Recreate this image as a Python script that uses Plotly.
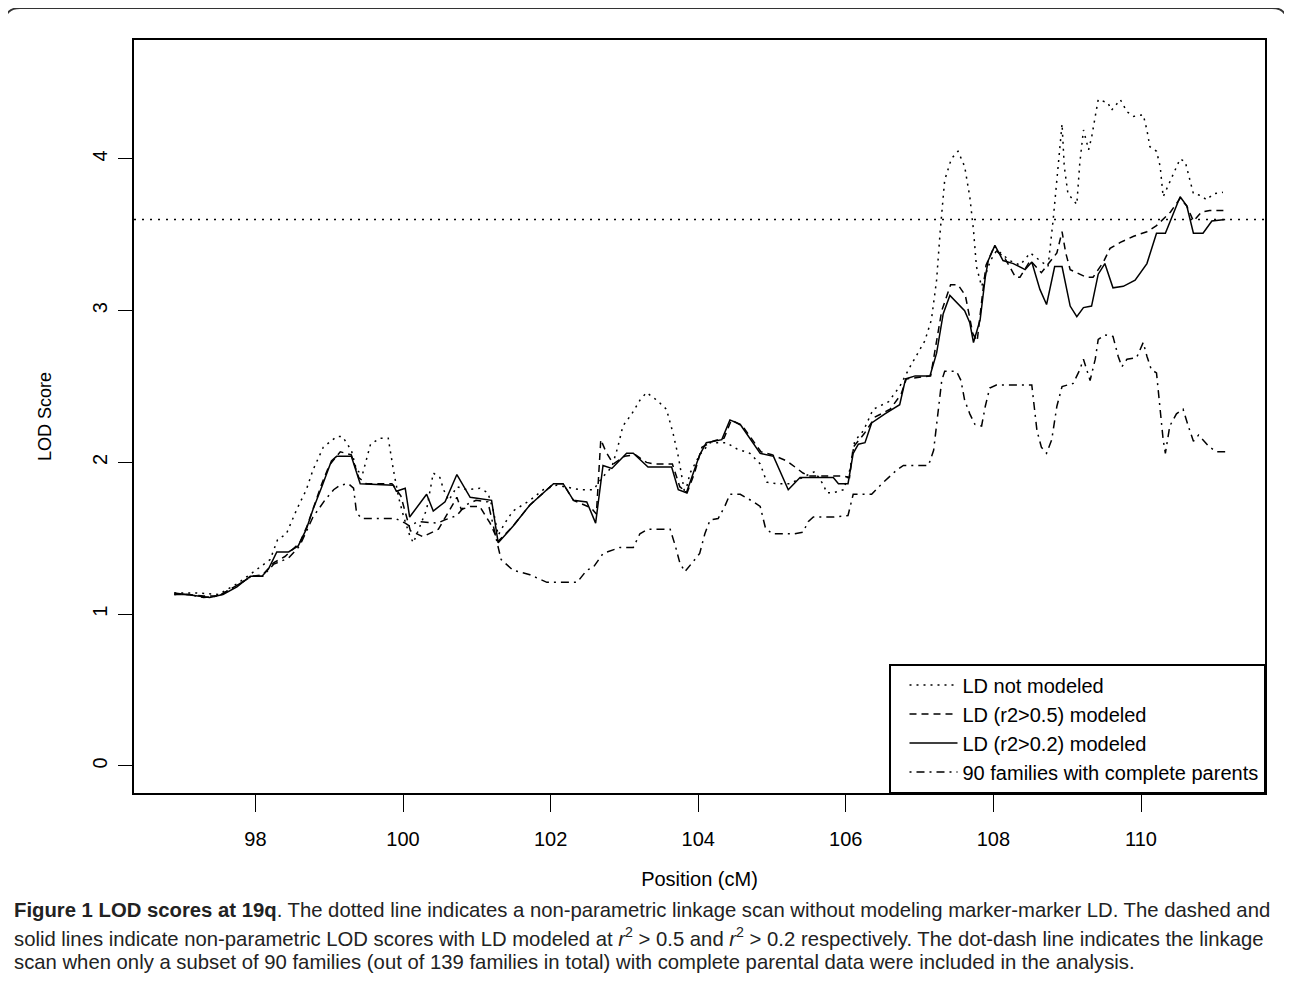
import plotly.graph_objects as go

# ---------------- data ----------------
pos_not_modeled = [96.90, 97.20, 97.50, 97.75, 97.95, 98.20, 98.30, 98.42, 98.56, 98.69,
                   98.78, 98.92, 99.10, 99.18, 99.30, 99.37, 99.45, 99.56, 99.69, 99.80,
                   99.87, 99.94, 100.01, 100.09, 100.14, 100.21, 100.32, 100.41, 100.50, 100.55,
                   100.62, 100.73, 100.87, 101.04, 101.15, 101.22, 101.29, 101.38, 101.49, 101.72,
                   101.90, 102.08, 102.40, 102.58, 102.70, 102.83, 102.91, 102.98, 103.10, 103.21,
                   103.30, 103.44, 103.57, 103.66, 103.73, 103.82, 103.89, 104.02, 104.16, 104.38,
                   104.52, 104.70, 104.84, 104.93, 105.06, 105.24, 105.42, 105.58, 105.70, 105.74,
                   105.83, 105.97, 106.06, 106.12, 106.24, 106.37, 106.58, 106.73, 106.87, 106.98,
                   107.07, 107.16, 107.23, 107.28, 107.34, 107.43, 107.52, 107.61, 107.68, 107.73,
                   107.77, 107.84, 107.96, 108.05, 108.22, 108.36, 108.50, 108.63, 108.74, 108.81,
                   108.88, 108.93, 108.96, 109.01, 109.08, 109.13, 109.17, 109.22, 109.29, 109.33,
                   109.38, 109.42, 109.55, 109.60, 109.72, 109.81, 109.90, 110.03, 110.08, 110.12,
                   110.21, 110.26, 110.30, 110.44, 110.53, 110.60, 110.66, 110.71, 110.80, 110.89,
                   110.98, 111.11]
lod_not_modeled = [1.14, 1.14, 1.13, 1.20, 1.27, 1.36, 1.49, 1.53, 1.69, 1.82,
                   1.95, 2.10, 2.17, 2.17, 2.08, 1.95, 1.92, 2.12, 2.16, 2.16,
                   1.95, 1.77, 1.64, 1.52, 1.47, 1.56, 1.69, 1.93, 1.90, 1.82,
                   1.75, 1.84, 1.82, 1.83, 1.80, 1.69, 1.52, 1.60, 1.68, 1.75,
                   1.82, 1.85, 1.82, 1.82, 1.90, 1.97, 2.10, 2.24, 2.32, 2.41,
                   2.46, 2.41, 2.35, 2.19, 2.04, 1.79, 1.93, 2.05, 2.13, 2.13,
                   2.09, 2.06, 1.99, 1.87, 1.86, 1.86, 1.90, 1.94, 1.85, 1.80,
                   1.80, 1.82, 1.96, 2.14, 2.21, 2.35, 2.40, 2.50, 2.63, 2.72,
                   2.80, 2.94, 3.20, 3.53, 3.86, 4.00, 4.05, 3.95, 3.75, 3.53,
                   3.29, 3.16, 3.33, 3.40, 3.33, 3.30, 3.38, 3.33, 3.29, 3.60,
                   3.97, 4.23, 3.95, 3.77, 3.73, 3.70, 3.97, 4.19, 4.06, 4.14,
                   4.28, 4.39, 4.37, 4.32, 4.39, 4.31, 4.28, 4.29, 4.19, 4.08,
                   4.05, 3.95, 3.75, 3.90, 4.00, 3.98, 3.86, 3.77, 3.76, 3.73,
                   3.77, 3.78]

pos_r05 = [96.90, 97.10, 97.30, 97.50, 97.75, 97.95, 98.10, 98.25, 98.40, 98.60,
           98.70, 98.80, 98.90, 99.00, 99.15, 99.30, 99.40, 99.50, 99.85, 99.97,
           100.10, 100.27, 100.48, 100.66, 100.73, 100.79, 100.91, 101.04, 101.18, 101.29,
           101.49, 101.72, 102.04, 102.17, 102.31, 102.55, 102.62, 102.68, 102.75, 102.85,
           103.00, 103.15, 103.30, 103.40, 103.65, 103.75, 103.85, 103.95, 104.05, 104.20,
           104.35, 104.45, 104.60, 104.85, 105.00, 105.20, 105.42, 105.50, 105.97, 106.05,
           106.10, 106.25, 106.40, 106.60, 106.75, 106.82, 107.15, 107.30, 107.42, 107.52,
           107.62, 107.72, 107.78, 107.85, 107.90, 108.00, 108.15, 108.30, 108.36, 108.50,
           108.65, 108.86, 108.93, 108.98, 109.04, 109.26, 109.35, 109.49, 109.58, 109.72,
           109.90, 110.08, 110.21, 110.40, 110.53, 110.62, 110.71, 110.82, 110.93, 111.14]
lod_r05 = [1.13, 1.13, 1.12, 1.12, 1.19, 1.25, 1.26, 1.34, 1.38, 1.47,
           1.58, 1.72, 1.86, 1.98, 2.07, 2.05, 1.90, 1.86, 1.86, 1.78,
           1.55, 1.51, 1.56, 1.71, 1.77, 1.69, 1.71, 1.71, 1.60, 1.48,
           1.58, 1.72, 1.86, 1.86, 1.75, 1.70, 1.66, 2.15, 2.07, 1.99,
           2.04, 2.05, 2.00, 1.99, 1.99, 1.84, 1.80, 1.93, 2.10, 2.14,
           2.16, 2.28, 2.24, 2.07, 2.05, 2.01, 1.93, 1.91, 1.91, 1.90,
           2.10, 2.19, 2.30, 2.35, 2.45, 2.55, 2.57, 3.00, 3.17, 3.17,
           3.10, 2.85, 2.80, 3.10, 3.30, 3.41, 3.35, 3.22, 3.22, 3.33,
           3.25, 3.38, 3.52, 3.38, 3.27, 3.22, 3.22, 3.32, 3.41, 3.45,
           3.49, 3.52, 3.56, 3.65, 3.74, 3.69, 3.59, 3.65, 3.66, 3.66]

pos_r02 = [96.90, 97.07, 97.29, 97.38, 97.56, 97.75, 97.93, 98.09, 98.18, 98.29,
           98.45, 98.58, 98.69, 98.78, 98.90, 99.03, 99.10, 99.30, 99.42, 99.87,
           99.91, 100.03, 100.09, 100.32, 100.41, 100.57, 100.73, 100.91, 101.20, 101.29,
           101.49, 101.72, 102.04, 102.17, 102.31, 102.49, 102.61, 102.71, 102.83, 103.03,
           103.12, 103.32, 103.64, 103.73, 103.84, 104.02, 104.11, 104.32, 104.43, 104.57,
           104.84, 105.02, 105.22, 105.38, 105.83, 105.90, 106.03, 106.10, 106.17, 106.26,
           106.35, 106.53, 106.73, 106.81, 106.94, 107.14, 107.23, 107.32, 107.41, 107.61,
           107.68, 107.73, 107.82, 107.89, 107.93, 108.02, 108.13, 108.27, 108.43, 108.52,
           108.63, 108.72, 108.83, 108.93, 109.04, 109.13, 109.22, 109.33, 109.42, 109.51,
           109.62, 109.76, 109.92, 110.08, 110.21, 110.33, 110.53, 110.62, 110.71, 110.84,
           110.96, 111.14]
lod_r02 = [1.14, 1.13, 1.12, 1.11, 1.13, 1.18, 1.25, 1.25, 1.30, 1.41,
           1.41, 1.45, 1.56, 1.69, 1.84, 2.01, 2.04, 2.04, 1.86, 1.85,
           1.81, 1.83, 1.64, 1.79, 1.68, 1.74, 1.92, 1.77, 1.75, 1.47,
           1.58, 1.72, 1.86, 1.86, 1.75, 1.74, 1.60, 1.98, 1.96, 2.06,
           2.06, 1.97, 1.97, 1.82, 1.80, 2.05, 2.13, 2.15, 2.28, 2.25,
           2.06, 2.04, 1.82, 1.90, 1.90, 1.86, 1.86, 2.06, 2.12, 2.13,
           2.26, 2.32, 2.38, 2.55, 2.57, 2.57, 2.72, 2.98, 3.10, 3.00,
           2.92, 2.79, 2.94, 3.22, 3.33, 3.43, 3.33, 3.31, 3.27, 3.32,
           3.14, 3.04, 3.29, 3.29, 3.03, 2.96, 3.02, 3.03, 3.24, 3.31,
           3.15, 3.16, 3.20, 3.31, 3.51, 3.51, 3.75, 3.69, 3.51, 3.51,
           3.59, 3.60]

pos_90fam = [96.90, 97.10, 97.30, 97.50, 97.75, 97.95, 98.10, 98.25, 98.45, 98.60,
             98.78, 98.94, 99.06, 99.15, 99.26, 99.33, 99.37, 99.44, 99.90, 100.03,
             100.09, 100.20, 100.47, 100.56, 100.73, 100.85, 100.99, 101.15, 101.29, 101.33,
             101.49, 101.72, 101.95, 102.22, 102.36, 102.49, 102.58, 102.71, 102.94, 103.12,
             103.21, 103.32, 103.62, 103.69, 103.75, 103.82, 103.90, 104.02, 104.09, 104.16,
             104.27, 104.36, 104.43, 104.57, 104.75, 104.84, 104.91, 105.00, 105.30, 105.42,
             105.49, 105.56, 105.83, 106.03, 106.10, 106.35, 106.49, 106.69, 106.78, 107.12,
             107.19, 107.25, 107.30, 107.34, 107.50, 107.56, 107.61, 107.68, 107.75, 107.84,
             107.89, 107.95, 108.04, 108.52, 108.54, 108.59, 108.65, 108.72, 108.79, 108.86,
             108.93, 109.08, 109.17, 109.22, 109.31, 109.38, 109.42, 109.51, 109.62, 109.69,
             109.74, 109.81, 109.94, 110.03, 110.08, 110.14, 110.21, 110.26, 110.30, 110.33,
             110.39, 110.48, 110.57, 110.64, 110.71, 110.78, 110.93, 111.03, 111.14]
lod_90fam = [1.13, 1.13, 1.11, 1.12, 1.19, 1.25, 1.25, 1.33, 1.37, 1.45,
             1.64, 1.75, 1.82, 1.85, 1.86, 1.83, 1.67, 1.63, 1.63, 1.60,
             1.58, 1.61, 1.60, 1.62, 1.65, 1.72, 1.75, 1.74, 1.44, 1.36,
             1.29, 1.26, 1.21, 1.21, 1.21, 1.29, 1.31, 1.40, 1.44, 1.44,
             1.53, 1.56, 1.56, 1.45, 1.34, 1.28, 1.33, 1.40, 1.53, 1.62,
             1.63, 1.71, 1.79, 1.79, 1.74, 1.71, 1.57, 1.53, 1.53, 1.54,
             1.61, 1.64, 1.64, 1.65, 1.79, 1.79, 1.86, 1.95, 1.98, 1.98,
             2.08, 2.35, 2.54, 2.60, 2.60, 2.54, 2.41, 2.32, 2.25, 2.24,
             2.37, 2.49, 2.51, 2.51, 2.41, 2.21, 2.10, 2.06, 2.15, 2.37,
             2.50, 2.52, 2.61, 2.68, 2.54, 2.68, 2.81, 2.84, 2.83, 2.70,
             2.63, 2.68, 2.69, 2.79, 2.70, 2.61, 2.59, 2.35, 2.15, 2.06,
             2.24, 2.32, 2.35, 2.24, 2.14, 2.18, 2.10, 2.07, 2.07]

threshold = 3.6
x_ticks = [98, 100, 102, 104, 106, 108, 110]
y_ticks = [0, 1, 2, 3, 4]
series_names = ["LD not modeled", "LD (r2>0.5) modeled", "LD (r2>0.2) modeled",
                "90 families with complete parents"]

caption_lines = [
    "<b>Figure 1 LOD scores at 19q</b>. The dotted line indicates a non-parametric linkage scan "
    "without modeling marker-marker LD. The dashed and",
    "solid lines indicate non-parametric LOD scores with LD modeled at <i>r</i><sup>2</sup> &gt; 0.5 "
    "and <i>r</i><sup>2</sup> &gt; 0.2 respectively. The dot-dash line indicates the linkage",
    "scan when only a subset of 90 families (out of 139 families in total) with complete "
    "parental data were included in the analysis.",
]

# ---------------- figure ----------------
W, H = 1292, 987
OFF = 8  # page body offset of the rendered figure
# screen-space frame of the plot area: left 134, right 1265, top 40, bottom 793
ML, MT = 134 - OFF, 40 - OFF
MR = W - (1265 - OFF)
MB = H - (793 - OFF)
PW, PH = W - ML - MR, H - MT - MB

def px_x(px):
    return (px - OFF - ML) / PW

def px_y(py):
    return (H - MB - (py - OFF)) / PH

LW = 1.5
dashes = ["2px,5px", "7px,5px", "solid", "2px,5px,8px,5px"]
xs = [pos_not_modeled, pos_r05, pos_r02, pos_90fam]
ys = [lod_not_modeled, lod_r05, lod_r02, lod_90fam]

fig = go.Figure()
for name, x, y, d in zip(series_names, xs, ys, dashes):
    fig.add_trace(go.Scatter(x=x, y=y, mode="lines", name=name,
                             line=dict(color="black", width=LW, dash=d)))

fig.add_hline(y=threshold, line=dict(color="black", width=1.5, dash="2px,6px"))

FAM = "Liberation Sans, Arial, sans-serif"
axis_font = dict(family=FAM, size=20, color="black")

fig.update_layout(
    width=W, height=H,
    margin=dict(l=ML, r=MR, t=MT, b=MB, autoexpand=False),
    paper_bgcolor="white", plot_bgcolor="white",
    font=axis_font,
    showlegend=True,
    legend=dict(x=1, y=0, xanchor="right", yanchor="bottom",
                bgcolor="white", bordercolor="black", borderwidth=1.5,
                font=dict(family=FAM, size=20, color="black"),
                itemwidth=48, indentation=14, tracegroupgap=0),
    xaxis=dict(range=[96.355, 111.68], tickvals=x_ticks, ticks="outside", ticklen=17,
               tickwidth=1.2, tickcolor="black", showline=True, mirror=True,
               linecolor="black", linewidth=1.5, showgrid=False, zeroline=False,
               tickfont=axis_font, ticklabelstandoff=10,
               title=dict(text="Position (cM)", font=axis_font, standoff=23)),
    yaxis=dict(range=[-0.178, 4.783], tickvals=y_ticks, ticks="outside", ticklen=14,
               tickwidth=1.2, tickcolor="black", showline=True, mirror=True,
               linecolor="black", linewidth=1.5, showgrid=False, zeroline=False,
               tickangle=-90, tickfont=axis_font, ticklabelstandoff=3,
               title=dict(text="LOD Score", font=dict(family=FAM, size=18, color="black"),
                          standoff=33)),
)

# caption
cap_font = dict(family=FAM, size=20.3, color="#222222")
line_y = [910, 937, 962]
for text, yy in zip(caption_lines, line_y):
    fig.add_annotation(text=text, xref="paper", yref="paper",
                       x=px_x(12), y=px_y(yy), xanchor="left", yanchor="middle",
                       showarrow=False, font=cap_font, align="left")

# outer rounded frame
x0, x1 = px_x(5), px_x(1287)
y1, y0 = px_y(8), px_y(1010)
rx, ry = 15 / PW, 15 / PH
path = (f"M {x0},{y0} L {x0},{y1 - ry} Q {x0},{y1} {x0 + rx},{y1} "
        f"L {x1 - rx},{y1} Q {x1},{y1} {x1},{y1 - ry} L {x1},{y0}")
fig.add_shape(type="path", path=path, xref="paper", yref="paper",
              line=dict(color="#333333", width=1.8))

fig.write_html("out.html")
